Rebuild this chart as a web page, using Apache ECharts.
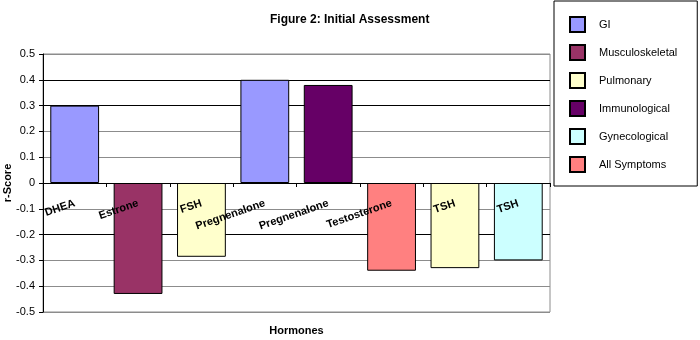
<!DOCTYPE html>
<html>
<head>
<meta charset="utf-8">
<script src="https://cdn.jsdelivr.net/npm/echarts@6/dist/echarts.min.js"></script>
<style>
  html, body { margin: 0; padding: 0; background: #fff; }
  #chart { width: 700px; height: 340px; }
</style>
</head>
<body>
<div id="chart"></div>
<script>
// hormones along the x axis (one bar per slot)
var hormones = ["DHEA", "Estrone", "FSH", "Pregnenalone", "Pregnenalone", "Testosterone", "TSH", "TSH"];

// r-score per symptom group, '-' where the group has no bar
var gi            = [0.30, "-", "-", 0.40, "-", "-", "-", "-"];
var musculo       = ["-", -0.43, "-", "-", "-", "-", "-", "-"];
var pulmonary     = ["-", "-", -0.286, "-", "-", "-", -0.33, "-"];
var immunological = ["-", "-", "-", "-", 0.38, "-", "-", "-"];
var gynecological = ["-", "-", "-", "-", "-", "-", "-", -0.30];
var allSymptoms   = ["-", "-", "-", "-", "-", -0.34, "-", "-"];

var groupNames  = ["GI", "Musculoskeletal", "Pulmonary", "Immunological", "Gynecological", "All Symptoms"];
var groupValues = [gi, musculo, pulmonary, immunological, gynecological, allSymptoms];
var groupColors = ["#9999ff", "#993366", "#ffffcc", "#660066", "#ccffff", "#ff8080"];

var font = "Liberation Sans, Arial, sans-serif";
var myChart = echarts.init(document.getElementById("chart"));

var series = [];
for (var i = 0; i < groupNames.length; i++) {
  series.push({
    name: groupNames[i],
    type: "bar",
    stack: "all",
    barWidth: "77%",
    data: groupValues[i],
    itemStyle: {
      color: groupColors[i],
      borderColor: "#000",
      borderWidth: 1
    }
  });
}

var gridGray = "#8c8c8c";
// plot is 258px tall and symmetric around zero: lift the category axis to the zero line
var plotHeight = 340 - 54 - 28;
var option = {
  animation: false,
  title: {
    text: "Figure 2: Initial Assessment",
    left: 265,
    top: 9,
    textStyle: { fontFamily: font, fontSize: 12, fontWeight: "bold", color: "#000" }
  },
  legend: {
    orient: "vertical",
    left: 554,
    top: 1,
    padding: [15, 20, 13, 15],
    itemWidth: 15,
    itemHeight: 15,
    itemGap: 11,
    borderColor: "#000",
    borderWidth: 1,
    icon: "rect",
    textStyle: { fontFamily: font, fontSize: 11, color: "#000", padding: [0, 0, 0, 9] },
    data: groupNames
  },
  grid: {
    left: 43,
    right: 150,
    top: 54,
    bottom: 28,
    outerBoundsMode: "none",
    containLabel: false,
    show: true,
    borderColor: gridGray,
    borderWidth: 1
  },
  xAxis: {
    type: "category",
    data: hormones,
    offset: -plotHeight / 2,
    z: 10,
    name: "Hormones",
    nameLocation: "middle",
    nameGap: 142,
    nameMoveOverlap: false,
    nameTextStyle: { fontFamily: font, fontSize: 11, fontWeight: "bold", color: "#000" },
    axisLine: { onZero: false, lineStyle: { color: "#000", width: 1 } },
    axisTick: { show: true, length: 4, lineStyle: { color: "#000" } },
    axisLabel: {
      rotate: 19,
      margin: 20,
      interval: 0,
      fontFamily: font,
      fontSize: 11,
      fontWeight: "bold",
      color: "#000"
    },
    splitLine: { show: false }
  },
  yAxis: {
    type: "value",
    min: -0.5,
    max: 0.5,
    interval: 0.1,
    name: "r-Score",
    nameLocation: "middle",
    nameGap: 30,
    nameMoveOverlap: false,
    nameTextStyle: { fontFamily: font, fontSize: 11, fontWeight: "bold", color: "#000" },
    axisLine: { show: true, lineStyle: { color: "#000", width: 1 } },
    axisTick: { show: true, length: 4, lineStyle: { color: "#000" } },
    axisLabel: {
      margin: 8,
      fontFamily: font,
      fontSize: 11,
      color: "#000",
      formatter: function (v) { return String(Math.round(v * 10) / 10); }
    },
    splitLine: {
      show: true,
      lineStyle: {
        width: 1,
        color: [gridGray, gridGray, gridGray, "#000", gridGray, "#000",
                gridGray, gridGray, "#000", "#000", gridGray]
      }
    }
  },
  series: series
};

myChart.setOption(option);
</script>
</body>
</html>
